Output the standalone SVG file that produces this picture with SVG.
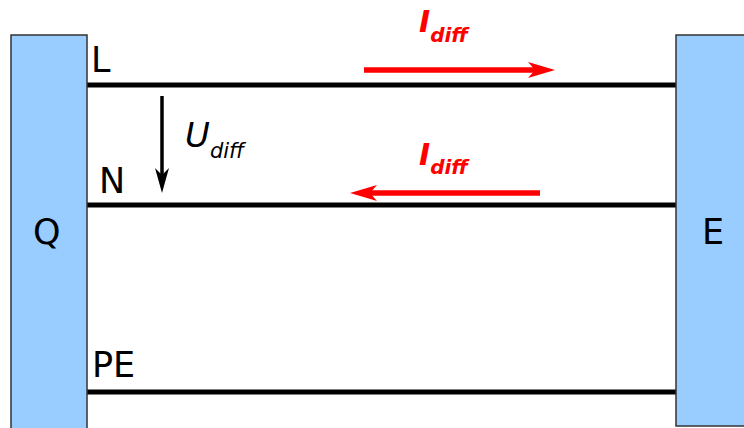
<svg xmlns="http://www.w3.org/2000/svg" width="744" height="428" viewBox="0 0 744 428">
<style>
.box{fill:#99ccff;stroke:#333;stroke-width:1.5}
.lbl{font-family:"DejaVu Sans",sans-serif;font-size:35px;fill:#000}
.wire{stroke:#000;stroke-width:5;fill:none}
.red{font-family:"DejaVu Sans",sans-serif;font-weight:bold;font-style:italic;fill:#ff0000}
</style>
<rect width="744" height="428" fill="#fff"/>
<g id="connectors">
<line class="wire" x1="87" y1="85" x2="676" y2="85"/>
<line class="wire" x1="87" y1="205" x2="676" y2="205"/>
<line class="wire" x1="87" y1="392" x2="676" y2="392"/>
<line x1="162" y1="96" x2="162" y2="178" stroke="#000" stroke-width="3.5"/>
<path d="M162,193 L155,168 L162,175 L169,168 Z" fill="#000"/>
<line x1="364" y1="70" x2="540" y2="70" stroke="#ff0000" stroke-width="5.5"/>
<path d="M555,70 L528,62 L535,70 L528,78 Z" fill="#ff0000"/>
<line x1="540" y1="193" x2="364" y2="193" stroke="#ff0000" stroke-width="5.5"/>
<path d="M350,193 L377,185 L370,193 L377,201 Z" fill="#ff0000"/>
</g>
<g id="Q">
<rect class="box" x="11" y="35" width="76" height="400"/>
<text class="lbl" x="33" y="244">Q</text>
</g>
<g id="E">
<rect class="box" x="676" y="35" width="80" height="391"/>
<text class="lbl" x="702" y="244">E</text>
</g>
<g id="labels">
<text class="lbl" x="91" y="72">L</text>
<text class="lbl" x="99" y="193">N</text>
<text class="lbl" x="92" y="377">PE</text>
<text x="185" y="147" font-family="DejaVu Sans,sans-serif" font-style="italic" font-size="34">U<tspan font-size="21" dy="11">diff</tspan></text>
<text class="red" x="419" y="32" font-size="30">I<tspan font-size="20" dy="10">diff</tspan></text>
<text class="red" x="419" y="165" font-size="30">I<tspan font-size="20" dy="9">diff</tspan></text>
</g>
</svg>
